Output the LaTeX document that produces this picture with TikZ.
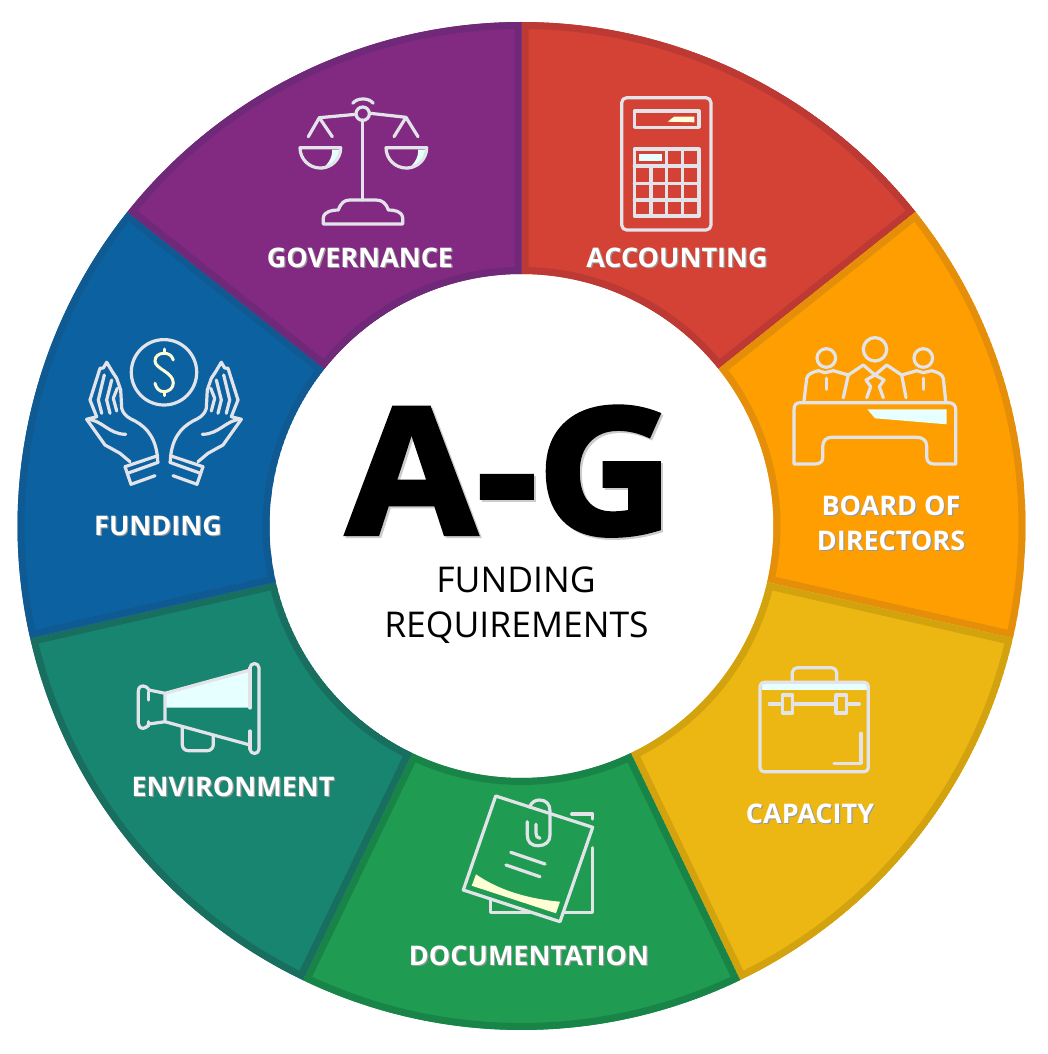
\documentclass[tikz,border=0pt]{standalone}
\usepackage{fontspec}
\setmainfont{Open Sans}
\newfontfamily\heavyfont[BoldFeatures={FakeBold=2.5}]{Open Sans}
\usepackage{tikz}
\definecolor{iconline}{HTML}{E3E4EA}
\definecolor{iconcyan}{HTML}{E6FFFF}
\definecolor{iconyellow}{HTML}{FFFFD6}
\definecolor{govfill}{HTML}{822A82}
\definecolor{govedge}{HTML}{702878}
\definecolor{accfill}{HTML}{D44236}
\definecolor{accedge}{HTML}{BC3A33}
\definecolor{boardfill}{HTML}{FF9E00}
\definecolor{boardedge}{HTML}{E58E0A}
\definecolor{capfill}{HTML}{EDB713}
\definecolor{capedge}{HTML}{D3A30F}
\definecolor{docfill}{HTML}{1F9C52}
\definecolor{docedge}{HTML}{198448}
\definecolor{envfill}{HTML}{188570}
\definecolor{envedge}{HTML}{186F5F}
\definecolor{fundfill}{HTML}{0C62A0}
\definecolor{fundedge}{HTML}{0F5A92}
\newcommand{\shadowed}[3]{\leavevmode\rlap{\kern#1\raisebox{-#1}{\color{black!#2}#3}}#3}
\tikzset{
    iconpath/.style={draw=iconline, line width=3.2pt, line join=round, line cap=round},
    seclabel/.style={text=white, font=\fontsize{27}{35}\selectfont\bfseries, align=center, anchor=base, inner sep=0pt}
}

\begin{document}
\begin{tikzpicture}[x=1pt,y=-1pt]
            \useasboundingbox (0,0) rectangle (1048,1054);
            \foreach \s/\fillc/\edgec in {-90/accfill/accedge, -38.57/boardfill/boardedge, 12.86/capfill/capedge, 64.29/docfill/docedge, 115.71/envfill/envedge, 167.14/fundfill/fundedge, 218.57/govfill/govedge} {
                \pgfmathsetmacro{\e}{\s+51.43}
                \begin{scope}[shift={(521.5,526)}]
                    \clip (\s:504) arc (\s:\e:504) -- (\e:252) arc (\e:\s:252) -- cycle;
                    \draw[fill=\fillc, draw=\edgec, line width=14pt] (\s:504) arc (\s:\e:504) -- (\e:252) arc (\e:\s:252) -- cycle;
                \end{scope}
            }
            \fill[white] (521.5,526) circle (250);

            \node[anchor=base, inner sep=0pt, font=\heavyfont\bfseries\fontsize{176}{176}\selectfont] (title) at (510,534) {\scalebox{1.07}[1]{\shadowed{2pt}{20}{A-G}}};
            \node[anchor=base, inner sep=0pt, font=\fontsize{35.5}{35.5}\selectfont] (sub1) at (516,592) {FUNDING};
            \node[anchor=base, inner sep=0pt, font=\fontsize{35.5}{35.5}\selectfont] (sub2) at (516.5,637) {REQUIREMENTS};

            \node[seclabel] (governance) at (360,267) {\shadowed{1.2pt}{40}{GOVERNANCE}};
            \node[seclabel] (accounting) at (677,267) {\shadowed{1.2pt}{40}{ACCOUNTING}};
            \node[seclabel] (board1) at (891,515) {\shadowed{1.2pt}{40}{BOARD OF}};
            \node[seclabel] (board2) at (891,550) {\shadowed{1.2pt}{40}{DIRECTORS}};
            \node[seclabel] (capacity) at (810,823) {\shadowed{1.2pt}{40}{CAPACITY}};
            \node[seclabel] (documentation) at (529,965) {\shadowed{1.2pt}{40}{DOCUMENTATION}};
            \node[seclabel] (environment) at (233,796) {\shadowed{1.2pt}{40}{ENVIRONMENT}};
            \node[seclabel] (funding) at (158,535) {\shadowed{1.2pt}{40}{FUNDING}};

            \fill[iconcyan] (332,149.5) -- (340,149.5) arc (0:85:20) .. controls (327,165) and (333,158) .. cycle;
            \fill[iconcyan] (418,149.5) -- (426,149.5) arc (0:85:20) .. controls (413,165) and (419,158) .. cycle;
            \draw[iconpath] (352.7,103.3) .. controls (357,97.5) and (369,97.5) .. (373.3,103.3);
            \draw[iconpath] (362.7,113.7) circle (6.7);
            \draw[iconpath] (356,114.3) -- (319.3,117.7) -- (308.3,136.7) (319.3,117.7) -- (332.3,136.7);
            \draw[iconpath] (370,113.3) -- (406,117.3) -- (394,136.7) (406,117.3) -- (418,136.7);
            \draw[iconpath] (362.7,120) -- (362.7,200);
            \draw[iconpath] (300,147.7) -- (340.7,147.7) arc (0:180:20.35) -- cycle;
            \draw[iconpath] (386,147.7) -- (426.7,147.7) arc (0:180:20.35) -- cycle;
            \draw[iconpath] (323.3,224) -- (323.3,218) .. controls (324,211) and (333,210) .. (338.3,210) .. controls (341,203) and (344,200) .. (350,200) -- (376,200) .. controls (382,200) and (386,203) .. (388.3,210) .. controls (394,210) and (402,211) .. (402.7,218) -- (402.7,224) -- cycle;

            \fill[iconyellow] (667.7,121.7) -- (674,116.7) -- (694.3,116.7) -- (694.3,122.3) -- cycle;
            \fill[iconcyan] (639,154.3) rectangle (662.3,161.3);
            \draw[iconpath, rounded corners=5pt] (621.7,97.7) rectangle (711,230);
            \draw[iconpath] (634.3,111) rectangle (699,127.3);
            \draw[iconpath] (634.3,149) rectangle (699,216);
            \foreach \rowy in {166,183.3,200} {
                \draw[iconpath] (634.3,\rowy) -- (699,\rowy);
            }
            \foreach \colx in {666.7,682.7} {
                \draw[iconpath] (\colx,149) -- (\colx,216);
            }
            \draw[iconpath] (651,166) -- (651,216);

            \fill[iconcyan] (867.3,409.3) -- (946.7,409.3) -- (946.7,424.3) -- (875,418.3) -- cycle;
            \draw[iconpath] (826.3,358) circle (9.3);
            \draw[iconpath] (875,349.3) circle (11.7);
            \draw[iconpath] (923.3,358) circle (9.3);
            \draw[iconpath] (804,401) -- (806.7,378.3) .. controls (807.5,374) and (813,372) .. (818.3,370.7) -- (825,372.7) -- (833.3,370.7) -- (848.3,375) -- (863.3,365) -- (875,375) -- (886.7,365) -- (901.7,375) -- (916.7,370.7) -- (923.3,372.7) -- (931.7,370.7) .. controls (937,372) and (942.5,374) .. (943.3,378.3) -- (945.7,401);
            \draw[iconpath] (848.3,375) -- (843.3,397.7) (901.7,375) -- (906,397.7);
            \draw[iconpath] (826.3,378.3) -- (826.3,389.3) (923.3,378.3) -- (923.3,389.3);
            \draw[iconpath] (875,375) -- (866,380) -- (870.7,386.7) -- (866.7,397.7) (875,375) -- (884,380) -- (879.3,386.7) -- (883.3,397.7);
            \draw[iconpath] (794,464) -- (794,410) .. controls (794,405) and (796,402.7) .. (800,402.7) -- (948.3,402.7) .. controls (953,402.7) and (955.7,405) .. (955.7,410) -- (955.7,464) -- (934,464) .. controls (929,464) and (926.7,461) .. (926.7,456.7) -- (926.7,446) .. controls (926.7,440) and (922,437.3) .. (916.7,437.3) -- (831.7,437.3) .. controls (826,437.3) and (822.7,441) .. (822.7,446.7) -- (822.7,458.3) .. controls (822.7,462) and (819,464) .. (815,464) -- cycle;

            \fill[iconcyan] (761.7,684.3) rectangle (866.7,690.3);
            \draw[iconpath, rounded corners=4pt] (760,682.3) rectangle (868.3,771.7);
            \draw[iconpath, rounded corners=5pt] (792.3,682.3) -- (792.3,667.7) -- (836.7,667.7) -- (836.7,682.3);
            \draw[iconpath] (769.3,704) -- (782.3,704) (792.7,704) -- (836,704) (846.7,704) -- (859.3,704);
            \draw[iconpath] (782.3,695) rectangle (792.7,713);
            \draw[iconpath] (836,695) rectangle (846.7,713);
            \draw[iconpath] (861,733.3) -- (861,763.3) -- (834,763.3);

            \fill[iconyellow] (476,874.3) .. controls (500,891) and (530,899) .. (560,901.7) -- (556,913.3) -- (471.7,885.7) -- cycle;
            \draw[iconpath] (495.7,796) -- (592.7,827.3) -- (560,921.7) -- (463.3,890) -- cycle;
            \draw[iconpath] (571.7,814) -- (592.7,814) -- (592.7,819);
            \draw[iconpath] (592.7,847.7) -- (592.7,912.7) -- (563.3,912.7);
            \draw[iconpath] (490.7,900) -- (490.7,912.7) -- (531.7,912.7);
            \draw[iconpath] (529.3,807) .. controls (532,802) and (535,800) .. (539.3,800) .. controls (546,800) and (550,804) .. (550,811) -- (550,835) .. controls (550,842) and (545,845.7) .. (538.3,845.7) .. controls (531,845.7) and (527.3,842) .. (527.3,835) -- (527.3,821.7);
            \draw[iconpath] (536,824.3) -- (536,833) .. controls (536,836) and (537,838) .. (540,838.3);
            \draw[iconpath] (510.7,852.3) -- (545,864) (506,865) -- (540,876.7);

            \fill[iconcyan] (165,693.3) -- (249,670) -- (249,707.7) -- (165,707.7) -- cycle;
            \draw[iconpath] (250,670) -- (165,693.3) -- (165,721.7) -- (250,745);
            \draw[iconpath] (250,668) -- (250,708) (250,731) -- (250,749);
            \draw[iconpath] (250,668) arc (180:360:4.5) -- (259,749) arc (0:180:4.5);
            \draw[iconpath] (165,693.3) -- (149,690) .. controls (147,687) and (145,686) .. (143.3,686) .. controls (140,686) and (138.3,688) .. (138.3,691.7) -- (138.3,723.3) .. controls (138.3,726) and (140,728.3) .. (143.3,728.3) .. controls (145,728.3) and (147,727) .. (149,724) -- (165,721.7);
            \draw[iconpath] (148.3,692) -- (148.3,700) (148.3,721.7) -- (148.3,726);
            \draw[iconpath, rounded corners=6pt] (182.3,727.3) -- (182.3,750.7) -- (213.3,750.7) -- (213.3,736);

            \draw[iconpath] (164,372.3) circle (32.7);
            \draw[iconyellow, line width=3pt, line cap=round] (173.3,360) .. controls (172,355) and (168,353.3) .. (164,353.3) .. controls (159,353.3) and (155,356) .. (155,361) .. controls (155,369) and (173.3,372) .. (173.3,383) .. controls (173.3,388) and (169,391.7) .. (164,391.7) .. controls (159,391.7) and (156,388) .. (155,383.3);
            \draw[iconyellow, line width=3pt, line cap=round] (164,349) -- (164,353.3) (164,391.7) -- (164,395.7);
            \foreach \mirror/\shiftx in {1/0,-1/328} {
                \begin{scope}[xshift=\shiftx pt, xscale=\mirror]
                    \draw[iconpath] (86.7,419.3) .. controls (101.7,419.3) and (108.3,434.3) .. (125.7,434.3);
                    \draw[iconpath] (86.7,419.3) -- (105,445) -- (120,453.3) -- (130,461.7);
                    \draw[iconpath] (86.7,419.3) -- (96.7,416.7) -- (90,400) -- (100,368.3) -- (103.3,368) -- (106.7,362.3) -- (112.3,371.7) -- (116.7,378.3) -- (120.7,390) -- (121.7,408.3) .. controls (124,416) and (129,418) .. (135,421) .. controls (148,428) and (157,440) .. (157.7,461.7);
                    \draw[iconpath] (101.7,413.3) -- (98.3,400) -- (104.3,375);
                    \draw[iconpath] (110,413.3) -- (106.7,400) -- (111.7,380);
                    \draw[iconpath] (116.7,411) -- (113.3,398.3) -- (117.3,388.3);
                    \draw[iconpath] (157.7,455.7) -- (125,466.7) -- (131,484.3) -- (155,475.7);
                    \draw[iconpath] (128.3,473) -- (158.3,462.3);
                \end{scope}
            }
        \end{tikzpicture}
\end{document}
